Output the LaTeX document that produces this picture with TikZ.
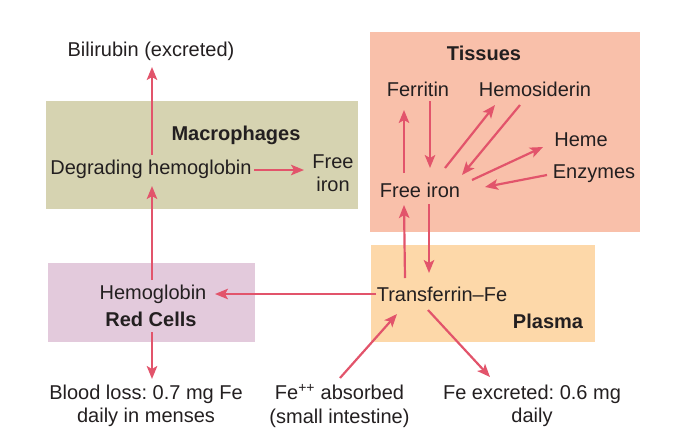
\documentclass[tikz,border=0pt]{standalone}
\usepackage{fontspec}
\setmainfont{Liberation Sans}
\usetikzlibrary{arrows.meta,calc}
\definecolor{arrowred}{HTML}{E2546B}
\definecolor{macrocol}{HTML}{D6D3B1}
\definecolor{tisscol}{HTML}{F9C0AA}
\definecolor{rccol}{HTML}{E3CADC}
\definecolor{plcol}{HTML}{FDD8A9}
\definecolor{txt}{HTML}{231F20}
\tikzset{
  lbl/.style={inner sep=0pt, text=txt, align=center, font=\fontsize{20}{23.5}\selectfont\frenchspacing},
  blbl/.style={lbl, font=\fontsize{20}{23.5}\selectfont\bfseries},
  arr/.style={draw=arrowred, line width=2.2pt, -{Stealth[length=13pt,width=10.5pt,inset=3pt]}}
}
\begin{document}
\begin{tikzpicture}[x=1pt,y=-1pt]
\useasboundingbox (0,0) rectangle (680,432);
% boxes
\fill[macrocol] (46,101) rectangle (358,209);
\fill[tisscol] (370,32) rectangle (640,232);
\fill[rccol] (48,263) rectangle (255,342);
\fill[plcol] (371,245) rectangle (595,342);
% labels
\node[lbl] (bili) at (151,51) {Bilirubin (excreted)};
\node[blbl] (macro) at (236,135) {Macrophages};
\node[lbl] (degr) at (151,169) {Degrading hemoglobin};
\node[lbl] (freeM) at (333,173) {Free\\iron};
\node[blbl] (tiss) at (484,53) {Tissues};
\node[lbl] (ferr) at (418,89) {Ferritin};
\node[lbl] (hemo) at (535,89) {Hemosiderin};
\node[lbl] (heme) at (581,140) {Heme};
\node[lbl] (enz) at (594,174) {Enzymes};
\node[lbl] (fi) at (420,190) {Free iron};
\node[lbl] (hb) at (153,294) {Hemoglobin};
\node[blbl] (rc) at (151,319) {Red Cells};
\node[lbl] (tf) at (442,294) {Transferrin--Fe};
\node[blbl] (plasma) at (548,321) {Plasma};
\node[lbl] (blood) at (146,406) {Blood loss: 0.7 mg Fe\\daily in menses};
\node[lbl] (feab) at (339.5,406) {Fe\textsuperscript{++} absorbed\\(small intestine)};
\node[lbl] (feex) at (532,406) {Fe excreted: 0.6 mg\\daily};
% connectors
\draw[arr] ($(degr)+(1,-14)$) -- ($(bili)+(1,16)$);
\draw[arr] ($(degr)+(103,1)$) -- ($(freeM)+(-29,-3)$);
\draw[arr] ($(hb)+(-1,-14)$) -- ($(degr)+(1,17)$);
\draw[arr] ($(rc)+(1,13)$) -- ($(blood)+(6,-27)$);
\draw[arr] ($(tf)+(-66,0)$) -- ($(hb)+(62,0)$);
\draw[arr] ($(tf)+(-37,-16)$) -- ($(fi)+(-16,15)$);
\draw[arr] ($(fi)+(9,14)$) -- ($(tf)+(-13,-21)$);
\draw[arr] ($(fi)+(-16,-17)$) -- ($(ferr)+(-14,21)$);
\draw[arr] ($(ferr)+(12,12)$) -- ($(fi)+(10,-22)$);
\draw[arr] ($(fi)+(25,-22)$) -- ($(hemo)+(-40,16)$);
\draw[arr] ($(hemo)+(-15,16)$) -- ($(fi)+(42,-15)$);
\draw[arr] ($(fi)+(52,-10)$) -- ($(heme)+(-38,7)$);
\draw[arr] ($(enz)+(-47,1)$) -- ($(fi)+(65,-3)$);
\draw[arr] ($(feab)+(0.5,-28)$) -- ($(tf)+(-45,20)$);
\draw[arr] ($(tf)+(-14,16)$) -- ($(feex)+(-42,-29)$);
\end{tikzpicture}
\end{document}
